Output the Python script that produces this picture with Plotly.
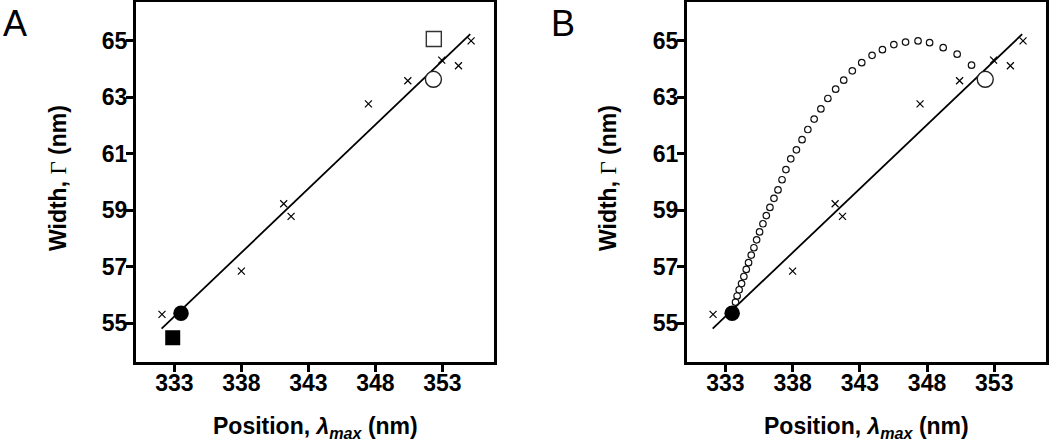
import plotly.graph_objects as go

# ---- data ----
cross_x = [332.08, 338.0, 341.16, 341.71, 347.48, 350.42, 352.95, 354.2, 355.14]
cross_y = [55.31, 56.84, 59.23, 58.78, 62.77, 63.59, 64.32, 64.12, 65.0]

fit_x = [332.05, 355.08]
fit_y = [54.80, 65.24]

filled_circle_x = [333.5]
filled_circle_y = [55.35]
open_circle_x = [352.33]
open_circle_y = [63.64]
filled_square_x = [332.88]
filled_square_y = [54.48]
open_square_x = [352.36]
open_square_y = [65.07]

curve_x = [333.75, 333.87, 334.02, 334.20, 334.37, 334.55, 334.72, 334.92, 335.12, 335.32,
           335.54, 335.79, 336.04, 336.31, 336.61, 336.91, 337.21, 337.50, 337.86, 338.28,
           338.70, 339.13, 339.60, 340.10, 340.62, 341.20, 341.80, 342.44, 343.14, 343.91,
           344.68, 345.53, 346.40, 347.33, 348.19, 349.20, 350.24, 351.31]
curve_y = [55.74, 55.96, 56.18, 56.40, 56.65, 56.90, 57.14, 57.41, 57.67, 57.95,
           58.23, 58.52, 58.81, 59.10, 59.42, 59.72, 60.08, 60.44, 60.82, 61.14,
           61.50, 61.86, 62.23, 62.59, 62.96, 63.29, 63.61, 63.94, 64.23, 64.49,
           64.69, 64.87, 64.96, 65.00, 64.94, 64.76, 64.53, 64.14]

x_ticks = [333, 338, 343, 348, 353]
y_ticks = [55, 57, 59, 61, 63, 65]
x_range = [330.14, 356.85]
y_range = [53.62, 66.38]

W, H = 1050, 441
fig = go.Figure()

def add_common(xa, ya, big_extra):
    fig.add_trace(go.Scatter(x=fit_x, y=fit_y, mode="lines", line=dict(color="black", width=1.8),
                             xaxis=xa, yaxis=ya, showlegend=False, hoverinfo="skip"))
    big_extra()
    fig.add_trace(go.Scatter(x=cross_x, y=cross_y, mode="markers",
                             marker=dict(symbol="x-thin", size=7, color="black",
                                         line=dict(color="black", width=1.2)),
                             xaxis=xa, yaxis=ya, showlegend=False))
    fig.add_trace(go.Scatter(x=open_circle_x, y=open_circle_y, mode="markers",
                             marker=dict(symbol="circle", size=16, color="white",
                                         line=dict(color="#222", width=1.4)),
                             xaxis=xa, yaxis=ya, showlegend=False))
    fig.add_trace(go.Scatter(x=filled_circle_x, y=filled_circle_y, mode="markers",
                             marker=dict(symbol="circle", size=15.5, color="black",
                                         line=dict(color="black", width=0)),
                             xaxis=xa, yaxis=ya, showlegend=False))

def extra_a():
    fig.add_trace(go.Scatter(x=open_square_x, y=open_square_y, mode="markers",
                             marker=dict(symbol="square", size=15, color="white",
                                         line=dict(color="#333", width=1.4)),
                             xaxis="x", yaxis="y", showlegend=False))
    fig.add_trace(go.Scatter(x=filled_square_x, y=filled_square_y, mode="markers",
                             marker=dict(symbol="square", size=15, color="black",
                                         line=dict(color="black", width=0)),
                             xaxis="x", yaxis="y", showlegend=False))

def extra_b():
    fig.add_trace(go.Scatter(x=curve_x, y=curve_y, mode="markers",
                             marker=dict(symbol="circle-open", size=6.5, color="#111",
                                         line=dict(color="#111", width=1.2)),
                             xaxis="x2", yaxis="y2", showlegend=False))

add_common("x", "y", extra_a)
add_common("x2", "y2", extra_b)

FAM = "Liberation Sans, Arial, sans-serif"
tick_font = dict(family=FAM, size=23, color="black", weight="bold")
title_font = dict(family=FAM, size=23, color="black", weight="bold")

xtitle = "Position, <i>λ<sub>max</sub></i> (nm)"
ytitle = 'Width, <span style="font-family:Liberation Serif;font-weight:normal">Γ</span> (nm)'

def xaxis(domain, anchor):
    return dict(domain=domain, range=x_range, anchor=anchor, tickvals=x_ticks,
                ticks="outside", ticklen=7, tickwidth=2.5, tickcolor="black",
                showline=True, linewidth=3.2, linecolor="black", mirror=True,
                showgrid=False, zeroline=False, tickfont=tick_font, automargin=False,
                ticklabelstandoff=-9)

def yaxis(anchor):
    return dict(domain=[(H - 362) / H, (H - 2) / H], range=y_range, anchor=anchor,
                tickvals=y_ticks, ticks="outside", ticklen=7, tickwidth=2.5, tickcolor="black",
                showline=True, linewidth=3.2, linecolor="black", mirror=True,
                showgrid=False, zeroline=False, tickfont=tick_font, automargin=False,
                ticklabelstandoff=-6)

def ann(text, x, y, **kw):
    d = dict(text=text, x=x / W, y=1 - y / H, xref="paper", yref="paper",
             showarrow=False, xanchor="center", yanchor="middle")
    d.update(kw)
    return d

fig.update_layout(
    width=W, height=H, margin=dict(l=0, r=0, t=0, b=0),
    plot_bgcolor="white", paper_bgcolor="white",
    xaxis=xaxis([136 / W, 494 / W], "y"),
    yaxis=yaxis("x"),
    xaxis2=xaxis([687 / W, 1046 / W], "y2"),
    yaxis2=yaxis("x2"),
    annotations=[
        ann("A", 1, 1, xanchor="left", yanchor="top", font=dict(family=FAM, size=36, color="black")),
        ann("B", 549, 1, xanchor="left", yanchor="top", font=dict(family=FAM, size=36, color="black")),
        ann(xtitle, 315, 427, font=title_font),
        ann(xtitle, 866, 427, font=title_font),
        ann(ytitle, 58, 178, textangle=-90, font=title_font),
        ann(ytitle, 608, 178, textangle=-90, font=title_font),
    ],
)

fig.write_html("out.html", config={"displayModeBar": False},
               post_script="document.body.style.margin='0';document.body.style.overflow='hidden';")
